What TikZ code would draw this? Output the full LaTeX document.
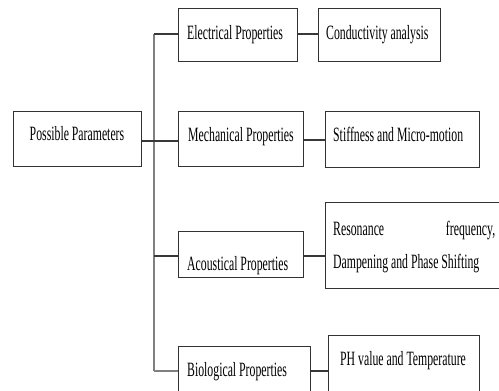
\documentclass[tikz,border=0pt]{standalone}
\usepackage{fontspec}
\setmainfont{Liberation Serif}[FakeStretch=0.58]
\begin{document}
\begin{tikzpicture}[x=1pt,y=-1pt,
  box/.style={draw=black!80,line width=1.4pt,rectangle,inner sep=0pt,anchor=north west},
  lbl/.style={inner sep=0pt,anchor=base west,font=\fontsize{20.3}{23}\selectfont,text=black},
  link/.style={draw=black!78,line width=1.3pt},
  trunk/.style={draw=black!50,line width=1.4pt}]
\useasboundingbox (0,0) rectangle (499,391);
% boxes
\node[box,minimum width=128pt,minimum height=55pt] (pp) at (13,111) {};
\node[box,minimum width=119pt,minimum height=53pt] (el) at (178,8) {};
\node[box,minimum width=122pt,minimum height=53pt] (co) at (318,8) {};
\node[box,minimum width=125pt,minimum height=55pt] (me) at (178,111) {};
\node[box,minimum width=154pt,minimum height=56pt] (st) at (325,111) {};
\node[box,minimum width=125pt,minimum height=46pt] (ac) at (178,231) {};
\node[box,minimum width=180pt,minimum height=86pt] (re) at (325,202) {};
\node[box,minimum width=132pt,minimum height=50pt] (bi) at (178,346) {};
\node[box,minimum width=151pt,minimum height=60pt] (ph) at (328,335) {};
% labels
\node[lbl,anchor=base] (ppt) at (77,140) {Possible Parameters};
\node[lbl] (elt) at (187,39) {Electrical Properties};
\node[lbl] (cot) at (326,39.5) {Conductivity analysis};
\node[lbl] (met) at (188,141.5) {Mechanical Properties};
\node[lbl] (stt) at (333,141.5) {Stiffness and Micro-motion};
\node[lbl] (act) at (187,270) {Acoustical Properties};
\node[lbl] (ret1) at (333,235) {\makebox[162pt][s]{Resonance\hfill frequency,}};
\node[lbl] (ret2) at (333,268) {Dampening and Phase Shifting};
\node[lbl] (bit) at (187,376.5) {Biological Properties};
\node[lbl] (pht) at (340,365) {PH value and Temperature};
% connectors
\coordinate (ttop) at (154,34);
\coordinate (tbot) at (154,371);
\draw[trunk] (ttop) -- (tbot);
\draw[link] (ttop) -- (el.west |- ttop);
\draw[link] (pp.east |- 0,141) -- (me.west |- 0,141);
\draw[link] (154,256) coordinate (ta) -- (ac.west |- ta);
\draw[trunk] (tbot) -- (bi.west |- tbot);
\draw[link] (el.east |- 0,34) -- (co.west |- 0,34);
\draw[link] (me.east |- 0,140) -- (st.west |- 0,140);
\draw[link] (ac.east |- 0,256) -- (re.west |- 0,256);
\draw[link] (bi.east |- 0,371) -- (ph.west |- 0,371);
\end{tikzpicture}
\end{document}
